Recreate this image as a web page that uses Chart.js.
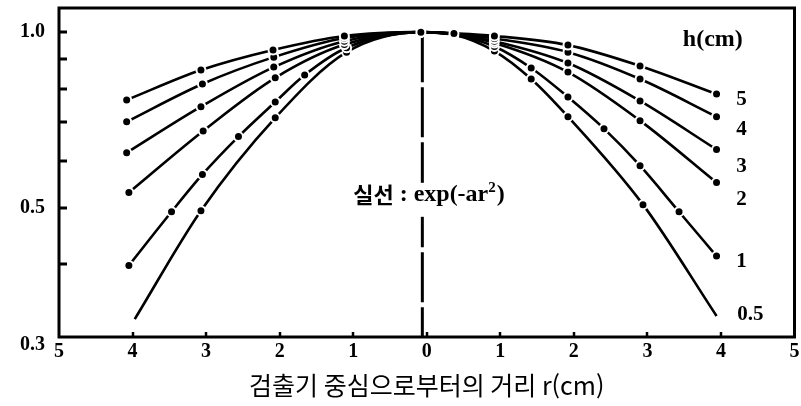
<!DOCTYPE html>
<html lang="ko">
<head>
<meta charset="utf-8">
<title>검출기 중심으로부터의 거리</title>
<script src="https://cdn.jsdelivr.net/npm/chart.js@4.4.1/dist/chart.umd.min.js"></script>
<style>
  html, body { margin: 0; padding: 0; background: #fff; }
  #wrap { width: 801px; height: 406px; }
</style>
</head>
<body>
<div id="wrap"><canvas id="grafica" width="801" height="406"></canvas></div>
<script>
/* ===============================
   DATOS
================================= */
// alturas h(cm) de cada curva
const alturas = ['5', '4', '3', '2', '1', '0.5'];

// r(cm) negativo = lado izquierdo del detector
const r5 = [-4.08, -3.07, -2.09, -1.12, -0.08, 0.37, 0.92, 1.92, 2.90, 3.94];
const v5 = [0.765, 0.861, 0.932, 0.985, 1.0, 0.995, 0.985, 0.950, 0.875, 0.783];

const r4 = [-4.08, -3.05, -2.08, -1.12, -0.08, 0.37, 0.92, 1.92, 2.90, 3.94];
const v4 = [0.702, 0.815, 0.906, 0.977, 1.0, 0.994, 0.975, 0.924, 0.831, 0.716];

const r3 = [-4.08, -3.07, -2.08, -1.12, -0.08, 0.37, 0.92, 1.92, 2.90, 3.94];
const v3 = [0.621, 0.745, 0.871, 0.965, 1.0, 0.993, 0.965, 0.885, 0.762, 0.629];

const r2 = [-4.05, -3.04, -2.06, -1.12, -0.08, 0.37, 0.92, 1.92, 2.90, 3.94];
const v2 = [0.531, 0.677, 0.835, 0.952, 1.0, 0.992, 0.958, 0.854, 0.705, 0.552];

const r1 = [-4.05, -3.47, -3.05, -2.56, -2.06, -1.66, -1.09, -0.08, 0.37, 0.92, 1.42, 1.92, 2.41, 2.90, 3.43, 3.94];
const v1 = [0.398, 0.492, 0.570, 0.662, 0.759, 0.844, 0.940, 1.0, 0.990, 0.945, 0.868, 0.774, 0.683, 0.590, 0.492, 0.413];

const r05 = [-3.97, -3.07, -2.06, -1.09, -0.08, 0.37, 0.92, 1.42, 1.92, 2.94, 3.94];
const v05 = [0.322, 0.494, 0.713, 0.924, 1.0, 0.990, 0.928, 0.831, 0.716, 0.506, 0.326];

// linea vertical del centro
const rCentro = [-0.06, -0.06];
const vCentro = [1.0, 0.3];

const xTicks = [-5, -4, -3, -2, -1, 0, 1, 2, 3, 4, 5];
const xTickLabels = ['5', '4', '3', '2', '1', '0', '1', '2', '3', '4', '5'];
const yTicks = [0.3, 0.4, 0.5, 0.6, 0.7, 0.8, 0.9, 1.0];
const yTickLabels = ['0.3', '', '0.5', '', '', '', '', '1.0'];

const tituloX = '검출기 중심으로부터의 거리 r(cm)';

const SERIF = '"Liberation Serif", "Times New Roman", serif';
const KR = '"Noto Sans CJK KR", "Noto Sans", sans-serif';

function serie(r, v) {
    return r.map((x, i) => ({ x: x, y: v[i] }));
}

let curvas = [[r5, v5], [r4, v4], [r3, v3], [r2, v2], [r1, v1], [r05, v05]];

let datasets = curvas.map((c, k) => {
    let radios = c[0].map(() => 4.5);
    // la curva de 0.5 termina sin punto en los extremos
    if (alturas[k] === '0.5') {
        radios[0] = 0;
        radios[radios.length - 1] = 0;
    }
    return {
        label: 'h = ' + alturas[k],
        data: serie(c[0], c[1]),
        borderColor: '#000',
        borderWidth: 2.6,
        pointRadius: radios,
        pointBackgroundColor: '#000',
        pointBorderColor: '#fff',
        pointBorderWidth: 2,
        cubicInterpolationMode: 'monotone',
        fill: false
    };
});

datasets.push({
    label: 'centro',
    data: serie(rCentro, vCentro),
    borderColor: '#000',
    borderWidth: 3,
    borderDash: [50, 5],
    pointRadius: 0,
    tension: 0,
    fill: false
});

/* ===============================
   MARCO, MARCAS Y TEXTOS
================================= */
const marco = {
    id: 'marco',
    afterDatasetsDraw(chart) {
        const { ctx, chartArea: a, scales } = chart;
        const sx = scales.x, sy = scales.y;
        ctx.save();
        ctx.strokeStyle = '#000';
        ctx.fillStyle = '#000';

        // marcas hacia dentro
        ctx.lineWidth = 3;
        yTicks.forEach(v => {
            if (v <= 0.3) return;
            let py = Math.round(sy.getPixelForValue(v));
            ctx.beginPath();
            ctx.moveTo(a.left, py);
            ctx.lineTo(a.left + 8, py);
            ctx.stroke();
        });
        ctx.lineWidth = 2.5;
        xTicks.forEach(v => {
            if (Math.abs(v) === 5) return;
            let px = Math.round(sx.getPixelForValue(v));
            ctx.beginPath();
            ctx.moveTo(px, a.bottom);
            ctx.lineTo(px, a.bottom - 5);
            ctx.stroke();
        });

        ctx.lineWidth = 3;
        ctx.strokeRect(a.left, a.top, a.right - a.left, a.bottom - a.top);

        // etiquetas de h a la derecha
        ctx.textAlign = 'center';
        ctx.textBaseline = 'middle';
        ctx.font = 'bold 24px ' + SERIF;
        ctx.fillText('h(cm)', sx.getPixelForValue(3.89), sy.getPixelForValue(0.969));
        ctx.font = 'bold 21px ' + SERIF;
        const posH = [0.765, 0.680, 0.588, 0.516, 0.404, 0.328];
        alturas.forEach((h, k) => {
            let rx = h === '0.5' ? 4.40 : 4.28;
            ctx.fillText(h, sx.getPixelForValue(rx), sy.getPixelForValue(posH[k]));
        });

        // nota del centro: 실선 : exp(-ar²) sobre fondo blanco
        let yc = sy.getPixelForValue(0.526);
        const fKr = 'bold 22px ' + KR;
        const fSe = 'bold 24px ' + SERIF;
        const fSup = 'bold 15px ' + SERIF;
        ctx.font = fKr;
        let w1 = ctx.measureText('실선').width;
        ctx.font = fSe;
        let w2 = ctx.measureText(' : exp(-ar').width;
        let w4 = ctx.measureText(')').width;
        ctx.font = fSup;
        let w3 = ctx.measureText('2').width + 1;
        let total = w1 + w2 + w3 + w4;
        let x0 = sx.getPixelForValue(0.03) - total / 2;
        ctx.fillStyle = '#fff';
        ctx.fillRect(x0 - 4, yc - 12, total + 8, 34);
        ctx.fillStyle = '#000';
        ctx.textAlign = 'left';
        ctx.font = fKr;
        ctx.fillText('실선', x0, yc);
        ctx.font = fSe;
        ctx.fillText(' : exp(-ar', x0 + w1, yc);
        ctx.fillText(')', x0 + w1 + w2 + w3, yc);
        ctx.font = fSup;
        ctx.fillText('2', x0 + w1 + w2, yc - 7);
        ctx.restore();
    }
};

/* ===============================
   GRAFICA
================================= */
let ctx = document.getElementById('grafica').getContext('2d');

let grafica = new Chart(ctx, {
    type: 'line',
    data: { datasets: datasets },
    options: {
        responsive: false,
        animation: false,
        devicePixelRatio: 1,
        layout: { padding: { left: 0, top: 8, right: 5, bottom: 0 } },
        plugins: {
            legend: { display: false },
            tooltip: { enabled: false }
        },
        scales: {
            x: {
                type: 'linear',
                min: -5,
                max: 5,
                afterBuildTicks: s => { s.ticks = xTicks.map(v => ({ value: v })); },
                afterFit: s => {
                    s.height = 69;
                    s.paddingLeft = 0;
                    s.paddingRight = 0;
                },
                grid: { display: false, drawTicks: false },
                border: { display: false },
                ticks: {
                    color: '#000',
                    padding: 3,
                    maxRotation: 0,
                    autoSkip: false,
                    font: { family: SERIF, size: 20, weight: 'bold' },
                    callback: (v, i) => xTickLabels[i]
                },
                title: {
                    display: true,
                    text: tituloX,
                    color: '#000',
                    font: { family: KR, size: 25 },
                    padding: { top: 0, bottom: 6 }
                }
            },
            y: {
                type: 'logarithmic',
                min: 0.3,
                max: 1.1,
                afterBuildTicks: s => { s.ticks = yTicks.map(v => ({ value: v })); },
                afterFit: s => {
                    s.width = 59;
                    s.paddingTop = 0;
                    s.paddingBottom = 0;
                },
                grid: { display: false, drawTicks: false },
                border: { display: false },
                ticks: {
                    color: '#000',
                    padding: 14,
                    autoSkip: false,
                    // 0.3 va un poco por debajo de la esquina
                    font: c => ({ family: SERIF, size: 20, weight: 'bold', lineHeight: c.index === 0 ? 0.8 : 1.2 }),
                    callback: (v, i) => i === 0 ? ['', yTickLabels[0]] : yTickLabels[i]
                }
            }
        }
    },
    plugins: [marco]
});
</script>
</body>
</html>
